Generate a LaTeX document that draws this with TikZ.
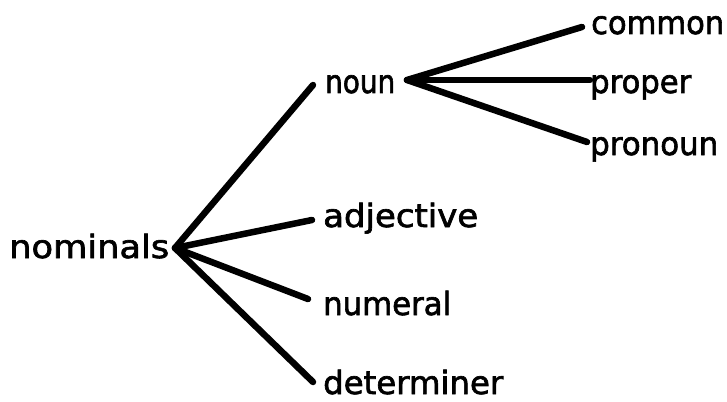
\documentclass[tikz,border=0pt]{standalone}
\usepackage{fontspec}
\setmainfont{DejaVu Sans}
\newfontfamily\lblfont{DejaVu Sans}[FakeBold=2]
\usepackage{graphicx}
\newcommand{\fitw}[2]{\resizebox{#1pt}{\height}{#2}}
\begin{document}
\begin{tikzpicture}[x=1pt,y=-1pt,
  lbl/.style={anchor=base west,inner sep=0pt,font=\lblfont\fontsize{32}{32}\selectfont},
  branch/.style={line width=6.5pt,line cap=round,line join=round}]
\useasboundingbox (0,0) rectangle (727,401);
% labels
\node[lbl] (nominals) at (9,258) {\fitw{160}{nominals}};
\node[lbl] (noun) at (325,93) {\fitw{70}{noun}};
\node[lbl] (common) at (591,34) {\fitw{133}{common}};
\node[lbl] (proper) at (590,93) {\fitw{101}{proper}};
\node[lbl] (pronoun) at (590,155) {\fitw{128}{pronoun}};
\node[lbl] (adjective) at (323,227) {\fitw{155}{adjective}};
\node[lbl] (numeral) at (323,315) {\fitw{128}{numeral}};
\node[lbl] (determiner) at (323,394) {\fitw{180}{determiner}};
% junctions and line ends
\coordinate (j1) at (175,248);
\coordinate (j2) at (407,80);
\coordinate (eNoun) at (313,85);
\coordinate (eAdj) at (312,220);
\coordinate (eNum) at (308,299);
\coordinate (eDet) at (313,382);
\coordinate (eCom) at (582,27);
\coordinate (ePro) at (590,80);
\coordinate (ePron) at (587,142);
% connectors
\draw[branch] (j1) -- (eNoun);
\draw[branch] (j1) -- (eAdj);
\draw[branch] (j1) -- (eNum);
\draw[branch] (j1) -- (eDet);
\draw[branch] (j2) -- (eCom);
\draw[branch] (j2) -- (ePro);
\draw[branch] (j2) -- (ePron);
\end{tikzpicture}
\end{document}
